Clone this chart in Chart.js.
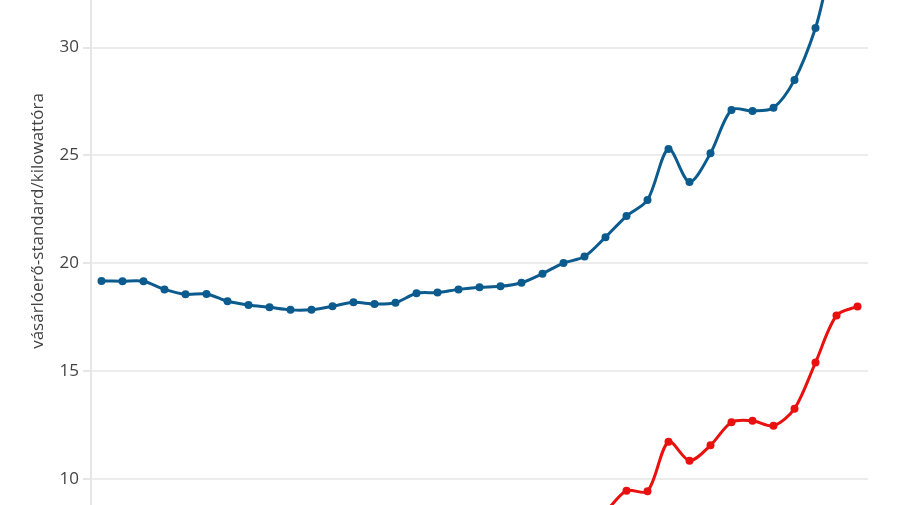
<!DOCTYPE html>
<html>
<head>
<meta charset="utf-8">
<script src="https://cdn.jsdelivr.net/npm/chart.js@4/dist/chart.umd.min.js"></script>
<style>
  html, body { margin: 0; padding: 0; background: #ffffff; }
  #wrap { position: relative; width: 900px; height: 505px; overflow: hidden; }
  #box { position: absolute; left: 0; top: -70px; width: 900px; height: 582px; }
</style>
</head>
<body>
<div id="wrap"><div id="box"><canvas id="graficoLinha"></canvas></div></div>
<script>
/* DADOS */
var years = [];
for (var y = 1985; y <= 2021; y++) { years.push(String(y)); }

var blueValues = [19.18,19.17,19.17,18.79,18.56,18.58,18.24,18.07,17.96,17.84,17.85,18.01,18.19,18.11,18.17,18.61,18.64,18.79,18.89,18.93,19.10,19.52,20.01,20.31,21.21,22.19,22.93,25.30,23.77,25.10,27.11,27.06,27.21,28.50,30.91,34.4,35.0];
var redValues = [6.4,6.4,6.3,6.2,6.1,6.1,6.0,5.9,5.9,5.8,5.8,5.9,6.0,6.0,6.1,6.3,6.4,6.5,6.6,6.7,6.9,7.2,7.5,7.9,8.5,9.46,9.43,11.73,10.85,11.56,12.63,12.70,12.47,13.26,15.40,17.58,18.0];
var yTicks = [10,15,20,25,30,35];
var yTitle = 'vásárlóerő-standard/kilowattóra';

var textFont = { family: "'Open Sans', sans-serif", size: 17 };

var dataLinha = {
  labels: years,
  datasets: [{
    label: 'A',
    data: blueValues,
    borderColor: '#0b5b8e',
    backgroundColor: '#0b5b8e',
    borderWidth: 3,
    pointRadius: 4,
    pointBorderWidth: 0,
    tension: 0.3
  }, {
    label: 'B',
    data: redValues,
    borderColor: '#e8110f',
    backgroundColor: '#e8110f',
    borderWidth: 3,
    pointRadius: 4,
    pointBorderWidth: 0,
    tension: 0.3
  }]
};

var ctx = document.getElementById('graficoLinha').getContext('2d');
var lineChart = new Chart(ctx, {
  type: 'line',
  data: dataLinha,
  options: {
    responsive: true,
    maintainAspectRatio: false,
    animation: false,
    events: [],
    layout: { autoPadding: false, padding: { left: 0, right: 32, top: 0, bottom: 0 } },
    plugins: { legend: { display: false }, tooltip: { enabled: false } },
    scales: {
      x: { display: false, offset: true },
      y: {
        min: 8.47,
        max: 35.45,
        afterBuildTicks: function (scale) {
          scale.ticks = yTicks.map(function (v) { return { value: v }; });
        },
        afterFit: function (scale) {
          scale.width = 91;
          scale.paddingTop = 0;
          scale.paddingBottom = 0;
        },
        grid: { color: '#ececec', lineWidth: 2, tickLength: 8, tickColor: '#e6e6e6' },
        border: { color: '#e6e6e6', width: 2 },
        ticks: { color: '#444444', font: textFont, padding: 4 },
        title: {
          display: true,
          text: yTitle,
          color: '#444444',
          font: textFont,
          padding: { top: 28, bottom: 0 }
        }
      }
    }
  }
});
</script>
</body>
</html>
